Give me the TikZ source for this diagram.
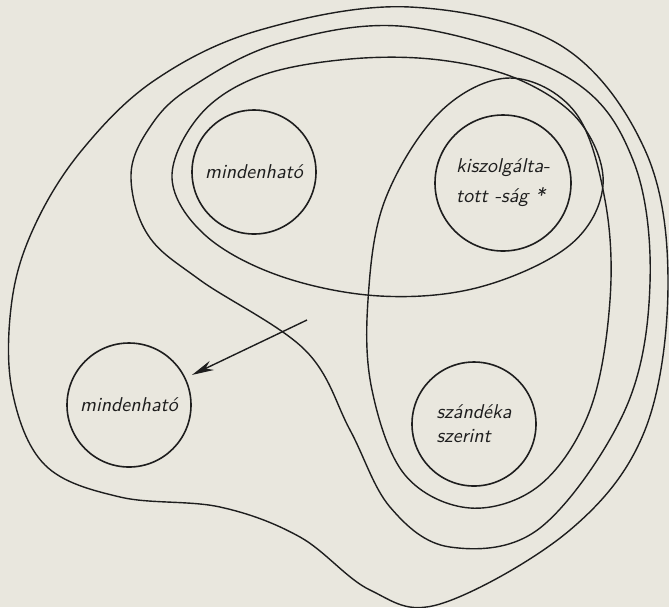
\documentclass[tikz,border=0pt]{standalone}
\usepackage{tikz}
\usetikzlibrary{arrows.meta}
\definecolor{paper}{RGB}{233,231,222}
\definecolor{ink}{RGB}{30,30,30}
\tikzset{
	disc/.style={draw=ink, circle, line width=0.8pt, minimum size=62pt, inner sep=0pt, font=\sffamily\itshape, text=ink},
	region/.style={draw=ink, line width=0.7pt},
}

\begin{document}
\begin{tikzpicture}[x=0.5pt, y=-0.5pt]
	\fill[paper] (0,0) rectangle (669,607);
	\useasboundingbox (0,0) rectangle (669,607);
	% outermost region, with the bulge round the lower left circle
	\draw[region] plot[smooth cycle, tension=0.6] coordinates {(35,225) (82,150) (155,80) (260,30) (410,7) (560,45) (645,150) (668,283) (645,430) (570,530) (440,604) (370,590) (300,537) (220,507) (120,497) (45,465) (12,390) (12,300)};
	% second region
	\draw[region] plot[smooth cycle, tension=0.6] coordinates {(131,175) (150,127) (190,88) (280,43) (410,27) (567,77) (633,160) (650,283) (625,410) (540,528) (450,547) (390,507) (350,430) (305,350) (200,280) (148,235)};
	% lying oval round the two upper circles
	\draw[region] plot[smooth cycle, tension=0.6] coordinates {(172,178) (200,115) (260,76) (350,59) (440,60) (520,80) (580,122) (603,185) (570,245) (480,287) (380,296) (280,276) (205,235)};
	% standing oval on the right
	\draw[region] plot[smooth cycle, tension=0.6] coordinates {(510,78) (575,112) (605,200) (610,300) (590,410) (540,485) (470,508) (405,475) (372,390) (368,300) (385,200) (440,112)};
	% the circles
	\node[disc] (mind1) at (254,172) {mindenható};
	\node[disc, minimum size=68pt, align=left] (kiszolg) at (503,183) {kiszolgálta-\\[3pt]tott -ság *};
	\node[disc] (mind2) at (129,405) {mindenható};
	\node[disc, align=left] (szand) at (474,424) {szándéka\\szerint};
	\coordinate (arrtail) at (307,320);
	\draw[-{Stealth[length=11pt,width=5pt]}, draw=ink, fill=ink, line width=0.7pt, shorten >=3.5pt] (arrtail) -- (mind2);
\end{tikzpicture}
\end{document}
